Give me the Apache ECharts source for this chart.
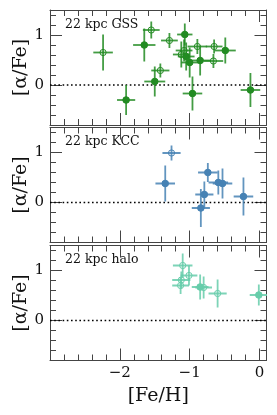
<!DOCTYPE html>
<html>
<head>
<meta charset="utf-8">
<script src="https://cdn.jsdelivr.net/npm/echarts@6/dist/echarts.min.js"></script>
<style>html,body{margin:0;padding:0;background:#fff;}#c{width:277px;height:415px;}</style>
</head>
<body>
<div id="c"></div>
<script>
// ---- data: [Fe/H], [alpha/Fe], errors, filled flag (1 = filled, 0 = open)
const panelNames = ['22 kpc GSS', '22 kpc KCC', '22 kpc halo'];
const panelColors = ['#228B22', '#4682B4', '#66CDAA'];

const gssFeH      = [-2.24, -1.91, -1.65, -1.55, -1.42, -1.50, -1.29, -1.07, -1.12, -1.08, -1.05, -1.00, -0.89, -0.85, -0.65, -0.66, -0.49, -0.96, -0.13];
const gssAlpha    = [ 0.65, -0.30,  0.80,  1.10,  0.29,  0.07,  0.89,  1.01,  0.61,  0.69,  0.57,  0.45,  0.77,  0.49,  0.77,  0.48,  0.69, -0.17, -0.10];
const gssFeHErr   = [ 0.14,  0.13,  0.16,  0.12,  0.13,  0.15,  0.12,  0.11,  0.12,  0.12,  0.12,  0.12,  0.14,  0.16,  0.12,  0.14,  0.15,  0.14,  0.14];
const gssAlphaErr = [ 0.36,  0.30,  0.33,  0.17,  0.14,  0.30,  0.15,  0.22,  0.26,  0.22,  0.28,  0.30,  0.15,  0.30,  0.14,  0.14,  0.26,  0.34,  0.34];
const gssFilled   = [ 0,     1,     1,     0,     0,     1,     0,     1,     0,     0,     1,     1,     0,     1,     0,     0,     1,     1,     1];

const kccFeH      = [-1.26, -1.35, -0.74, -0.59, -0.53, -0.79, -0.84, -0.23];
const kccAlpha    = [ 0.99,  0.38,  0.60,  0.40,  0.38,  0.16, -0.11,  0.12];
const kccFeHErr   = [ 0.13,  0.14,  0.14,  0.14,  0.14,  0.13,  0.13,  0.14];
const kccAlphaErr = [ 0.15,  0.36,  0.19,  0.24,  0.30,  0.26,  0.38,  0.38];
const kccFilled   = [ 0,     1,     1,     1,     1,     1,     1,     1];

const haloFeH      = [-1.10, -1.01, -1.12, -1.13, -0.85, -0.80, -0.60, -0.01];
const haloAlpha    = [ 1.10,  0.90,  0.81,  0.70,  0.67,  0.66,  0.54,  0.51];
const haloFeHErr   = [ 0.14,  0.12,  0.13,  0.12,  0.12,  0.12,  0.13,  0.13];
const haloAlphaErr = [ 0.24,  0.20,  0.17,  0.17,  0.25,  0.22,  0.28,  0.21];
const haloFilled   = [ 0,     0,     0,     0,     1,     0,     0,     1];

// axis limits and ticks
const xMin = -3.0, xMax = 0.1;
const yMin = -0.8, yMax = 1.5;
const xMajor = [-2, -1, 0];
const xMinor = [-2.8,-2.6,-2.4,-2.2,-1.8,-1.6,-1.4,-1.2,-0.8,-0.6,-0.4,-0.2];
const yMajor = [0, 1];
const yMinor = [-0.6,-0.4,-0.2,0.2,0.4,0.6,0.8,1.2,1.4];

const panels = [
  [gssFeH, gssAlpha, gssFeHErr, gssAlphaErr, gssFilled],
  [kccFeH, kccAlpha, kccFeHErr, kccAlphaErr, kccFilled],
  [haloFeH, haloAlpha, haloFeHErr, haloAlphaErr, haloFilled]
];

const FONT = 'DejaVu Serif';
const frameColor = '#444';
const gridTops = [10, 127.5, 245.5];
const gridH = 115;

function fmt(v) { return v < 0 ? '\u2212' + Math.abs(v) : String(v); }

const grids = [], xAxes = [], yAxes = [], series = [], graphics = [];

panels.forEach((p, i) => {
  const last = i === panels.length - 1;
  grids.push({ left: 50, width: 216.5, top: gridTops[i], height: gridH, containLabel: false, outerBoundsMode: 'none' });
  const base = { gridIndex: i, type: 'value', splitLine: { show: false } };
  const xi = xAxes.length;
  // bottom major
  xAxes.push(Object.assign({}, base, {
    min: xMin, max: xMax, position: 'bottom',
    axisLine: { show: true, onZero: false, lineStyle: { color: frameColor, width: 1 } },
    axisTick: { show: true, inside: true, length: 12, customValues: xMajor, lineStyle: { color: frameColor, width: 1 } },
    axisLabel: { show: last, customValues: xMajor, formatter: fmt, margin: 5, color: '#111', fontFamily: FONT, fontSize: 15 },
    name: last ? '[Fe/H]' : '', nameLocation: 'middle', nameGap: 26, nameMoveOverlap: false,
    nameTextStyle: { fontFamily: FONT, fontSize: 19, color: '#111' }
  }));
  // bottom minor
  xAxes.push(Object.assign({}, base, {
    min: xMin, max: xMax, position: 'bottom',
    axisLine: { show: false, onZero: false },
    axisTick: { show: true, inside: true, length: 6, customValues: xMinor, lineStyle: { color: frameColor, width: 1 } },
    axisLabel: { show: false }
  }));
  // top major
  xAxes.push(Object.assign({}, base, {
    min: xMin, max: xMax, position: 'top',
    axisLine: { show: true, onZero: false, lineStyle: { color: frameColor, width: 1 } },
    axisTick: { show: true, inside: true, length: 12, customValues: xMajor, lineStyle: { color: frameColor, width: 1 } },
    axisLabel: { show: false }
  }));
  // top minor
  xAxes.push(Object.assign({}, base, {
    min: xMin, max: xMax, position: 'top',
    axisLine: { show: false, onZero: false },
    axisTick: { show: true, inside: true, length: 6, customValues: xMinor, lineStyle: { color: frameColor, width: 1 } },
    axisLabel: { show: false }
  }));

  const yi = yAxes.length;
  yAxes.push(Object.assign({}, base, {
    min: yMin, max: yMax, position: 'left',
    axisLine: { show: true, onZero: false, lineStyle: { color: frameColor, width: 1 } },
    axisTick: { show: true, inside: true, length: 12, customValues: yMajor, lineStyle: { color: frameColor, width: 1 } },
    axisLabel: { show: true, customValues: yMajor, formatter: fmt, margin: 6, color: '#111', fontFamily: FONT, fontSize: 15 },
    name: '[\u03b1/Fe]', nameLocation: 'middle', nameGap: 19, nameRotate: 90, nameMoveOverlap: false,
    nameTextStyle: { fontFamily: FONT, fontSize: 19, color: '#111' }
  }));
  yAxes.push(Object.assign({}, base, {
    min: yMin, max: yMax, position: 'left',
    axisLine: { show: false, onZero: false },
    axisTick: { show: true, inside: true, length: 6, customValues: yMinor, lineStyle: { color: frameColor, width: 1 } },
    axisLabel: { show: false }
  }));
  yAxes.push(Object.assign({}, base, {
    min: yMin, max: yMax, position: 'right',
    axisLine: { show: true, onZero: false, lineStyle: { color: frameColor, width: 1 } },
    axisTick: { show: true, inside: true, length: 12, customValues: yMajor, lineStyle: { color: frameColor, width: 1 } },
    axisLabel: { show: false }
  }));
  yAxes.push(Object.assign({}, base, {
    min: yMin, max: yMax, position: 'right',
    axisLine: { show: false, onZero: false },
    axisTick: { show: true, inside: true, length: 6, customValues: yMinor, lineStyle: { color: frameColor, width: 1 } },
    axisLabel: { show: false }
  }));

  // zero line
  series.push({
    type: 'line', xAxisIndex: xi, yAxisIndex: yi, silent: true, z: 1,
    data: [[xMin, 0], [xMax, 0]], showSymbol: false, symbol: 'none',
    lineStyle: { color: '#000', width: 1.6, type: [1.6, 2.6] }
  });

  const color = panelColors[i];
  const data = p[0].map((x, k) => [x, p[1][k], p[2][k], p[3][k], p[4][k]]);
  series.push({
    type: 'custom', xAxisIndex: xi, yAxisIndex: yi, z: 3, clip: true,
    data: data,
    renderItem: function (params, api) {
      const x = api.value(0), y = api.value(1), xe = api.value(2), ye = api.value(3), f = api.value(4);
      const c = api.coord([x, y]);
      const l = api.coord([x - xe, y]), r = api.coord([x + xe, y]);
      const t = api.coord([x, y + ye]), b = api.coord([x, y - ye]);
      const es = { stroke: color, lineWidth: 1.8, opacity: 0.85 };
      return {
        type: 'group',
        children: [
          { type: 'line', shape: { x1: l[0], y1: l[1], x2: r[0], y2: r[1] }, style: es },
          { type: 'line', shape: { x1: t[0], y1: t[1], x2: b[0], y2: b[1] }, style: es },
          { type: 'circle', shape: { cx: c[0], cy: c[1], r: f ? 3.3 : 3.1 },
            style: { fill: f ? color : 'none', stroke: color, lineWidth: 1 } }
        ]
      };
    }
  });

  graphics.push({
    type: 'text', left: 65, top: gridTops[i] + 8,
    style: { text: panelNames[i], font: '12.5px "DejaVu Serif"', fill: '#111' }
  });
});

const chart = echarts.init(document.getElementById('c'), null, { renderer: 'canvas' });
chart.setOption({
  animation: false,
  backgroundColor: '#fff',
  grid: grids,
  xAxis: xAxes,
  yAxis: yAxes,
  series: series,
  graphic: graphics
});
</script>
</body>
</html>
